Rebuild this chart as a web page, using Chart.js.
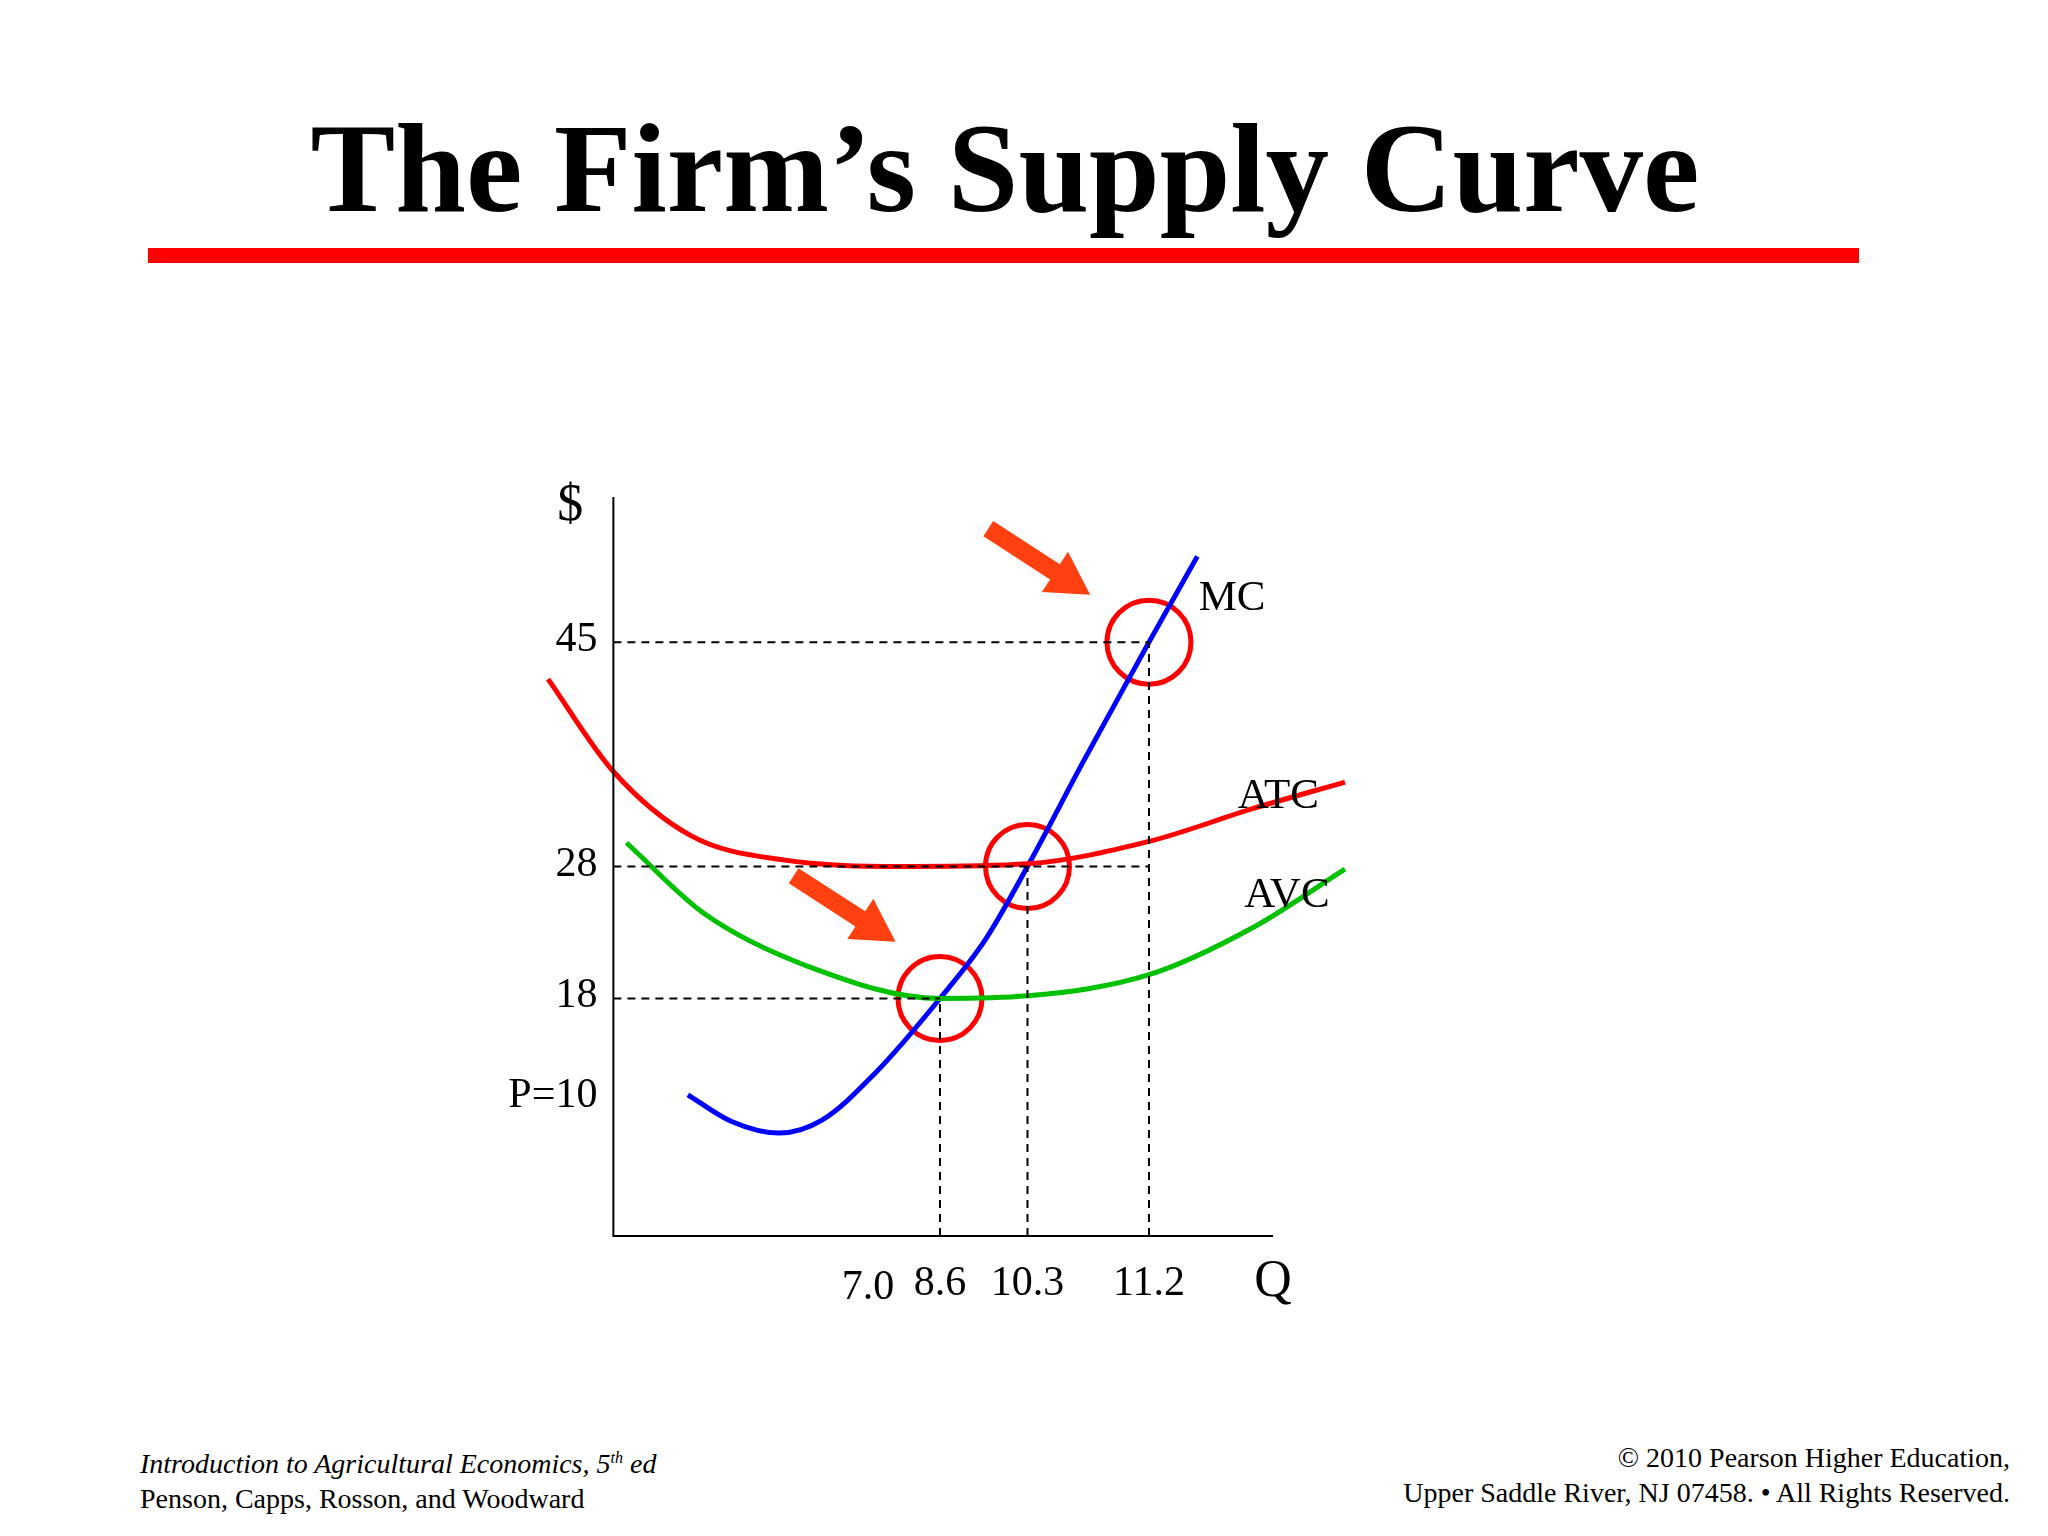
<!DOCTYPE html>
<html><head><meta charset="utf-8">
<script src="https://cdn.jsdelivr.net/npm/chart.js@4"></script>
<style>
html,body{margin:0;padding:0;background:#fff;width:2048px;height:1536px;overflow:hidden;font-family:"Liberation Serif",serif}
#title{position:absolute;left:0;width:2010px;top:96px;text-align:center;font-weight:bold;font-size:127px;color:#000}
#bar{position:absolute;left:148px;top:248px;width:1711px;height:15px;background:#ff0000}
.f{position:absolute;font-size:28px;line-height:35px;color:#000}
#c{position:absolute;left:0;top:0}
</style></head><body>
<div id="title">The Firm’s Supply Curve</div>
<div id="bar"></div>
<div class="f" style="left:140px;top:1440px"><i>Introduction to Agricultural Economics, 5<sup style="font-size:16px">th</sup> ed</i><br>Penson, Capps, Rosson, and Woodward</div>
<div class="f" style="right:38px;top:1440px;text-align:right">© 2010 Pearson Higher Education,<br>Upper Saddle River, NJ 07458. • All Rights Reserved.</div>
<canvas id="c" width="2048" height="1536"></canvas>
<script>
// Quantity axis is schematic: positions along axis, labels from reference
const qPositions = [195, 250, 317, 410];
const qLabels = ["7.0", "8.6", "10.3", "11.2"];
const priceTicks = [45, 28, 18, 10];
const priceLabels = ["45", "28", "18", "P=10"];
const mcX = [57, 90, 127, 160, 200, 250, 285, 317, 360, 410, 447];
const mcY = [10.7, 8.7, 7.8, 8.8, 12.3, 18, 22.5, 28, 36, 45, 51.5];
const atcX = [-50, 0, 60, 130, 230, 317, 410, 490, 560];
const atcY = [42.2, 35.2, 30.3, 28.5, 28, 28.2, 29.9, 32.4, 34.4];
const avcX = [10, 70, 150, 250, 317, 410, 490, 560];
const avcY = [29.8, 24.4, 20.4, 18, 18.2, 19.8, 23.4, 27.8];
const circleX = [250, 317, 410];
const circleY = [18, 28, 45];
const arrows = [[287, 53.6, 365, 48.6], [138, 27.3, 216, 22.3]];
const curveLabels = [["MC", 448, 48.3], ["ATC", 478, 33.3], ["AVC", 483, 25.8]];

const pts = (xs, ys) => xs.map((x, i) => ({x, y: ys[i]}));
const dash = (a) => ({type:'line', data:a, borderColor:'#000', borderWidth:2, borderDash:[8,6], pointRadius:0, tension:0});
const curve = (d, c) => ({type:'line', data:d, borderColor:c, borderWidth:5, pointRadius:0, tension:0.4, cubicInterpolationMode:'monotone'});

const datasets = [
  dash([{x:0,y:45},{x:410,y:45}]), dash([{x:0,y:28},{x:410,y:28}]), dash([{x:0,y:18},{x:250,y:18}]),
  dash([{x:250,y:0},{x:250,y:18}]), dash([{x:317,y:0},{x:317,y:28}]), dash([{x:410,y:0},{x:410,y:45}]),
  curve(pts(atcX, atcY), '#ff0000'),
  curve(pts(avcX, avcY), '#00c000'),
  curve(pts(mcX, mcY), '#0000ff'),
  {type:'scatter', data:pts(circleX, circleY), pointRadius:42, pointBorderWidth:5, pointBorderColor:'#ff0000', pointBackgroundColor:'rgba(0,0,0,0)'}
];

const deco = {
  id:'deco',
  afterDatasetsDraw(chart){
    const ctx = chart.ctx, x = chart.scales.x, y = chart.scales.y;
    ctx.save();
    ctx.strokeStyle = '#000'; ctx.lineWidth = 2;
    ctx.beginPath();
    ctx.moveTo(x.getPixelForValue(0), y.getPixelForValue(56));
    ctx.lineTo(x.getPixelForValue(0), y.getPixelForValue(0));
    ctx.lineTo(x.getPixelForValue(505), y.getPixelForValue(0));
    ctx.stroke();
    ctx.fillStyle = '#000';
    ctx.font = '42px "Liberation Serif"';
    ctx.textAlign = 'right'; ctx.textBaseline = 'middle';
    priceTicks.forEach((v, i) => ctx.fillText(priceLabels[i], x.getPixelForValue(0) - 16, y.getPixelForValue(v) + (i===3 ? -8 : -2)));
    ctx.textAlign = 'center'; ctx.textBaseline = 'middle';
    qPositions.forEach((p, i) => ctx.fillText(qLabels[i], x.getPixelForValue(p), y.getPixelForValue(0) + (i===0 ? 52 : 48)));
    ctx.font = '52px "Liberation Serif"';
    ctx.fillText('$', x.getPixelForValue(-33), y.getPixelForValue(55.3));
    ctx.fillText('Q', x.getPixelForValue(505), y.getPixelForValue(0) + 46);
    ctx.font = '43px "Liberation Serif"'; ctx.textAlign = 'left';
    curveLabels.forEach(l => ctx.fillText(l[0], x.getPixelForValue(l[1]), y.getPixelForValue(l[2])));
    ctx.fillStyle = '#ff4010'; ctx.strokeStyle = '#ff4010';
    arrows.forEach(a => {
      const x1 = x.getPixelForValue(a[0]), y1 = y.getPixelForValue(a[1]);
      const x2 = x.getPixelForValue(a[2]), y2 = y.getPixelForValue(a[3]);
      const ang = Math.atan2(y2 - y1, x2 - x1), L = Math.hypot(x2 - x1, y2 - y1);
      ctx.save(); ctx.translate(x1, y1); ctx.rotate(ang);
      ctx.beginPath();
      ctx.moveTo(0, -9); ctx.lineTo(L - 42, -9); ctx.lineTo(L - 42, -24); ctx.lineTo(L, 0);
      ctx.lineTo(L - 42, 24); ctx.lineTo(L - 42, 9); ctx.lineTo(0, 9); ctx.closePath(); ctx.fill();
      ctx.restore();
    });
    ctx.restore();
  }
};

new Chart(document.getElementById('c'), {
  data:{datasets},
  options:{
    responsive:false, animation:false, devicePixelRatio:1,
    layout:{padding:{left:535, right:690, top:497, bottom:300}},
    plugins:{legend:{display:false}, tooltip:{enabled:false}},
    scales:{
      x:{type:'linear', min:-60, max:570, display:false},
      y:{type:'linear', min:0, max:56, display:false}
    }
  },
  plugins:[deco]
});
</script>
</body></html>
